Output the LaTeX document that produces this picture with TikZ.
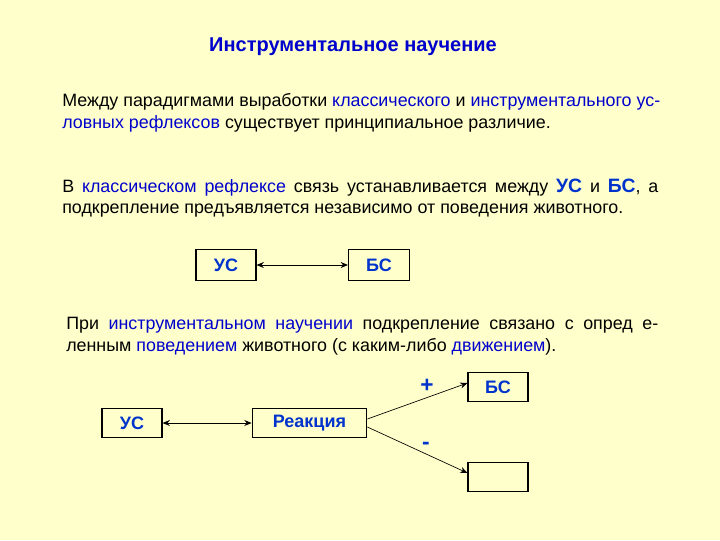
\documentclass[tikz,border=0pt]{standalone}
\usepackage{fontspec}
\setmainfont{Liberation Sans}
\usetikzlibrary{arrows.meta}
\definecolor{bg}{HTML}{FFFFCC}
\definecolor{tblue}{HTML}{0000CC}
\definecolor{lblue}{HTML}{0033CC}
\newcommand{\bl}[1]{\textcolor{tblue}{#1}}
\tikzset{
  box/.style={draw=black, line width=0.8pt, minimum height=23pt, inner sep=0pt,
    font=\bfseries\fontsize{13.5}{15}\selectfont, text=lblue},
  link/.style={line width=0.6pt, {Stealth[length=5.5pt,width=4.5pt]}-{Stealth[length=5.5pt,width=4.5pt]}},
  onelink/.style={line width=0.5pt, -{Stealth[length=5.5pt,width=4.5pt]}},
  txt/.style={anchor=base west, inner sep=0pt, font=\fontsize{13.4}{15}\selectfont},
  sign/.style={inner sep=0pt, font=\bfseries\fontsize{17}{19}\selectfont, text=lblue},
}
\begin{document}
\begin{tikzpicture}[x=0.75pt,y=-0.75pt]
\fill[bg] (0,0) rectangle (720,540);
\useasboundingbox (0,0) rectangle (720,540);

\node[inner sep=0pt, font=\bfseries\fontsize{15}{17}\selectfont, text=tblue] (title) at (353,47) {Инструментальное научение};

\node[txt] (p1a) at (62,106) {\makebox[448.5pt][s]{Между парадигмами выработки \bl{классического} и \bl{инструментального ус-}}};
\node[txt] (p1b) at (62,128) {\bl{ловных рефлексов} существует принципиальное различие.};

\node[txt] (p2a) at (62,192) {\makebox[447pt][s]{В \bl{классическом рефлексе} связь устанавливается между \textcolor{lblue}{\bfseries\fontsize{14.5}{15}\selectfont УС} и \textcolor{lblue}{\bfseries\fontsize{14.5}{15}\selectfont БС}, а}};
\node[txt] (p2b) at (62,213) {подкрепление предъявляется независимо от поведения животного.};

\node[box, minimum width=45pt] (us1) at (226,265) {УС};
\node[box, minimum width=45.75pt] (bs1) at (379,265) {БС};
\draw[link] (us1) -- (bs1);

\node[txt] (p3a) at (66,329) {\makebox[444pt][s]{При \bl{инструментальном научении} подкрепление связано с опред е-}};
\node[txt] (p3b) at (66,351) {ленным \bl{поведением} животного (с каким-либо \bl{движением}).};

\node[box, minimum width=45pt, minimum height=22pt] (us2) at (132,423) {УС};
\node[box, minimum width=86pt, minimum height=22pt] (r) at (309.5,423) {Реакция};
\node[box, minimum width=45pt, minimum height=22pt] (bs2) at (498,387) {БС};
\node[box, minimum width=45pt, minimum height=22pt] (e) at (498,477) {};
\draw[link] (us2) -- (r);
\draw[onelink] ([yshift=3pt]r.east) -- ([yshift=3pt]bs2.west);
\draw[onelink] ([yshift=-3pt]r.east) -- ([yshift=3pt]e.west);
\node[sign] (plus) at (427,386) {+};
\node[sign] (minus) at (426,446) {-};
\end{tikzpicture}
\end{document}
